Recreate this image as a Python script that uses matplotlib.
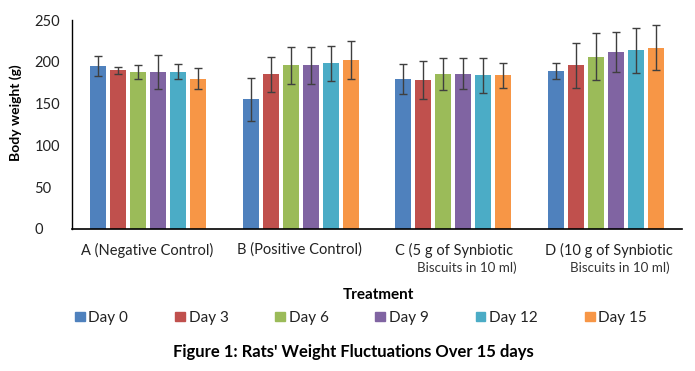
import numpy as np
import matplotlib.pyplot as plt
from matplotlib.patches import Patch

plt.rcParams['font.family'] = ['Lato', 'DejaVu Sans']

days = ['Day 0', 'Day 3', 'Day 6', 'Day 9', 'Day 12', 'Day 15']
colors = ['#4F81BD', '#C0504D', '#9BBB59', '#8064A2', '#4BACC6', '#F79646']

# mean body weight (g), rows = treatment groups, cols = days
weight_A = [195, 190, 188, 188, 188, 180]
weight_B = [155, 185, 196, 196, 198, 202]
weight_C = [179, 178, 185, 186, 184, 184]
weight_D = [189, 196, 206, 212, 214, 217]

# standard deviation (g)
sd_A = [12, 4, 8, 20, 9, 12]
sd_B = [26, 21, 22, 22, 21, 23]
sd_C = [18, 23, 19, 18, 21, 15]
sd_D = [10, 27, 28, 24, 27, 27]

means = np.array([weight_A, weight_B, weight_C, weight_D])
sds = np.array([sd_A, sd_B, sd_C, sd_D])

W, H = 695, 371
fig = plt.figure(figsize=(W / 100, H / 100), dpi=100)
ax = fig.add_axes([72 / W, 1 - 229 / H, (682 - 72) / W, (229 - 20) / H])

x = np.arange(4)
pitch = 0.131
width = 0.105
for j, day in enumerate(days):
    pos = x + (j - 2.5) * pitch
    ax.bar(pos, means[:, j], width, color=colors[j], zorder=2)
    ax.errorbar(pos, means[:, j], yerr=sds[:, j], fmt='none',
                ecolor='#3f3f3f', elinewidth=1, capsize=3, capthick=1, zorder=3)

ax.set_xlim(-0.5, 3.5)
ax.set_ylim(0, 250)
ax.set_yticks([0, 50, 100, 150, 200, 250])
ax.set_xticks([])
ax.tick_params(axis='y', length=0, pad=27, labelsize=10.5, labelcolor='#222222')
for lab in ax.get_yticklabels():
    lab.set_ha('left')
for s in ['top', 'right']:
    ax.spines[s].set_visible(False)
ax.spines['left'].set_color('black')
ax.spines['bottom'].set_color('black')
ax.spines['left'].set_linewidth(1)
ax.spines['bottom'].set_linewidth(1.2)

ax.set_ylabel('Body weight (g)', fontsize=10, fontweight='bold')
ax.yaxis.set_label_coords(-50 / 610, (229 - 113) / 209)

# category labels
cat_line1 = ['A (Negative Control)', 'B (Positive Control)',
             'C (5 g of Synbiotic', 'D (10 g of Synbiotic']
cat_line2 = ['', '', 'Biscuits in 10 ml)', 'Biscuits in 10 ml)']
left1 = [81, 237, 395, 545]
right2 = [0, 0, 517, 670]
for i in range(4):
    fig.text(left1[i] / W, 1 - 250 / H, cat_line1[i], fontsize=10.5,
             ha='left', va='center', color='#222222')
    if cat_line2[i]:
        fig.text(right2[i] / W, 1 - 268 / H, cat_line2[i], fontsize=9.6,
                 ha='right', va='center', color='#333333')

fig.text(378 / W, 1 - 295 / H, 'Treatment', fontsize=11, fontweight='bold',
         ha='center', va='center')

handles = [Patch(color=c) for c in colors]
fig.legend(handles, days, loc='center left', bbox_to_anchor=(67 / W, 1 - 318 / H),
           ncol=6, frameon=False, fontsize=11, handlelength=0.65, handleheight=0.55,
           handletextpad=0.25, columnspacing=3.05, borderpad=0, labelcolor='#222222')

fig.text(353 / W, 1 - 352 / H, "Figure 1: Rats' Weight Fluctuations Over 15 days",
         fontsize=12, fontweight='bold', ha='center', va='center')

fig.savefig('out.png', dpi=100)
